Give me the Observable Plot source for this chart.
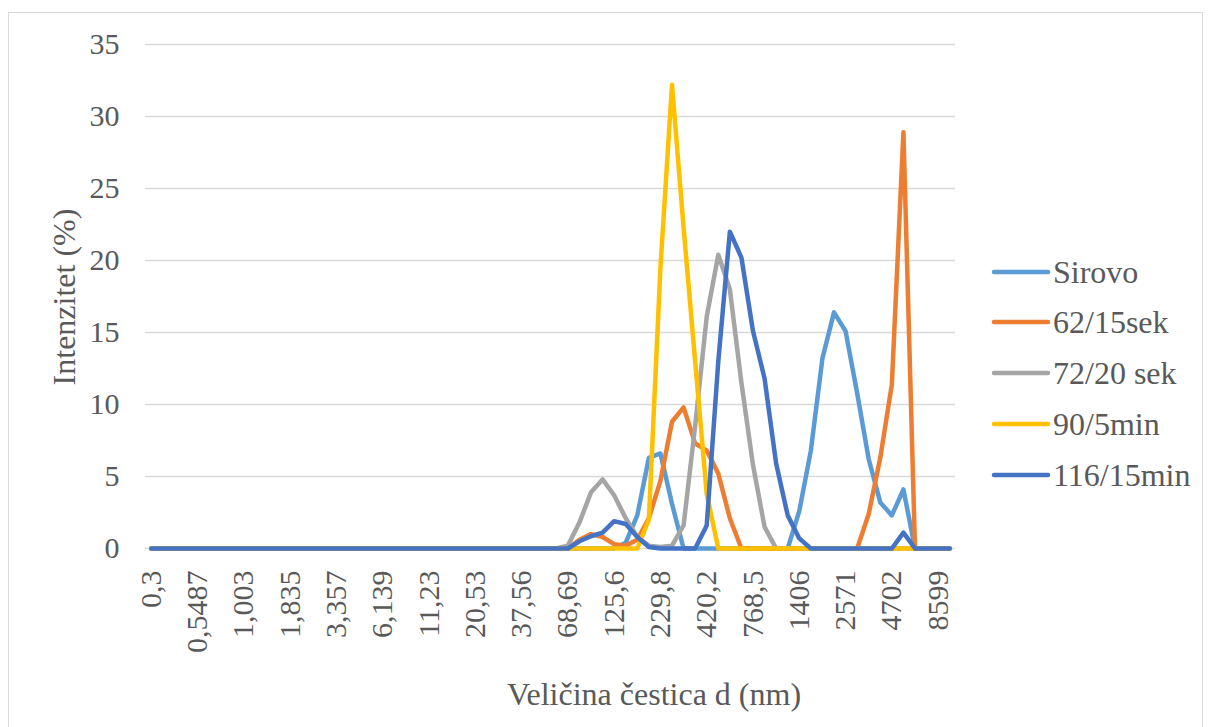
<!DOCTYPE html>
<html>
<head>
<meta charset="utf-8">
<script src="https://cdn.jsdelivr.net/npm/d3@7"></script>
<script src="https://cdn.jsdelivr.net/npm/@observablehq/plot@0.6"></script>
<style>
  html, body { margin: 0; padding: 0; background: #ffffff; }
  #wrap { position: relative; width: 1208px; height: 727px; overflow: hidden;
          font-family: "Liberation Serif", Tinos, "DejaVu Serif", serif; color: #595959; }
  #frame { position: absolute; left: 8px; top: 12px; width: 1195px; height: 760px;
           border: 1px solid #D9D9D9; box-sizing: border-box; }
  #chart { position: absolute; left: 0; top: 0; }
  #chart svg, #chart text { font-family: "Liberation Serif", Tinos, "DejaVu Serif", serif; }
  .title { position: absolute; white-space: nowrap; font-size: 32px; line-height: 1; }
  #ytitle { left: 64px; top: 297px; transform: translate(-50%, -50%) rotate(-90deg); }
  #xtitle { left: 654px; top: 694px; transform: translate(-50%, -50%); }
  #legend { position: absolute; left: 990px; top: 0; }
  .item { position: absolute; left: 0; height: 40px; display: flex; align-items: center; white-space: nowrap; font-size: 32px; transform: translateY(-50%); }
  .item svg { margin-right: 1px; }
</style>
</head>
<body>
<div id="wrap">
  <div id="frame"></div>
  <div id="chart"></div>
  <div class="title" id="ytitle">Intenzitet (%)</div>
  <div class="title" id="xtitle">Veličina čestica d (nm)</div>
  <div id="legend"></div>
</div>
<script>
// Size classes (nm), Zetasizer bins
const categories = ["0,3","0,3489","0,4057","0,4718","0,5487","0,6381","0,7421","0,863","1,003","1,167",
  "1,357","1,578","1,835","2,134","2,481","2,885","3,357","3,903","4,539","5,279",
  "6,139","7,139","8,302","9,655","11,23","13,06","15,19","17,66","20,53","23,88",
  "27,76","32,29","37,56","43,67","50,79","59,07","68,69","79,88","92,89","108,0",
  "125,6","146,1","169,9","197,6","229,8","267,2","310,8","361,4","420,2","488,7",
  "568,3","660,9","768,5","893,7","1039","1209","1406","1635","1901","2211",
  "2571","2990","3477","4043","4702","5468","6359","7395","8599","10000"];

// Tick labels shown on the x axis
const xTickLabels = ["0,3","0,5487","1,003","1,835","3,357","6,139","11,23","20,53","37,56","68,69",
  "125,6","229,8","420,2","768,5","1406","2571","4702","8599"];

const yTicks = [0, 5, 10, 15, 20, 25, 30, 35];

const seriesNames = ["Sirovo", "62/15sek", "72/20 sek", "90/5min", "116/15min"];
const seriesColors = ["#5B9BD5", "#ED7D31", "#A5A5A5", "#FFC000", "#4472C4"];

const sirovo = [0,0,0,0,0,0,0,0,0,0, 0,0,0,0,0,0,0,0,0,0, 0,0,0,0,0,0,0,0,0,0,
  0,0,0,0,0,0,0,0,0,0, 0,0.4,2.3,6.3,6.6,3.1,0,0,0,0, 0,0,0,0,0,0,2.6,6.8,13.2,16.4,
  15.1,10.8,6.2,3.2,2.3,4.1,0,0,0,0];
const s62_15sek = [0,0,0,0,0,0,0,0,0,0, 0,0,0,0,0,0,0,0,0,0, 0,0,0,0,0,0,0,0,0,0,
  0,0,0,0,0,0,0,0.6,1.0,0.8, 0.3,0.2,0.6,2.1,4.7,8.8,9.8,7.3,6.8,5.2, 2.1,0,0,0,0,0,0,0,0,0,
  0,0,2.4,6.3,11.4,28.9,0,0,0,0];
const s72_20sek = [0,0,0,0,0,0,0,0,0,0, 0,0,0,0,0,0,0,0,0,0, 0,0,0,0,0,0,0,0,0,0,
  0,0,0,0,0,0,0.2,1.8,3.9,4.8, 3.7,2.1,0.8,0.2,0.1,0.2,1.6,8.5,16.1,20.4, 18.0,11.5,5.8,1.5,0,0,0,0,0,0,
  0,0,0,0,0,0,0,0,0,0];
const s90_5min = [0,0,0,0,0,0,0,0,0,0, 0,0,0,0,0,0,0,0,0,0, 0,0,0,0,0,0,0,0,0,0,
  0,0,0,0,0,0,0,0,0,0, 0,0,0,2.0,19.5,32.2,22.3,13.0,3.8,0, 0,0,0,0,0,0,0,0,0,0,
  0,0,0,0,0,0,0,0,0,0];
const s116_15min = [0,0,0,0,0,0,0,0,0,0, 0,0,0,0,0,0,0,0,0,0, 0,0,0,0,0,0,0,0,0,0,
  0,0,0,0,0,0,0,0.5,0.85,1.1, 1.9,1.7,0.8,0.1,0,0,0,0,1.6,13.0, 22.0,20.2,15.1,11.8,5.9,2.3,0.7,0,0,0,
  0,0,0,0,0,1.1,0,0,0,0];

const seriesValues = [sirovo, s62_15sek, s72_20sek, s90_5min, s116_15min];

const rows = seriesNames.flatMap((name, si) =>
  categories.map((c, i) => ({series: name, size: c, value: seriesValues[si][i]})));

const chart = Plot.plot({
  width: 1208,
  height: 727,
  marginLeft: 145,
  marginRight: 253,
  marginTop: 44,
  marginBottom: 179,
  style: {fontFamily: "Liberation Serif, Tinos, DejaVu Serif, serif", fontSize: "30px", color: "#595959", background: "transparent", overflow: "visible"},
  x: {type: "point", domain: categories, padding: 0.5},
  y: {domain: [0, 35]},
  marks: [
    Plot.ruleY(yTicks, {stroke: "#D9D9D9", strokeWidth: 1.3}),
    Plot.axisY({ticks: yTicks, tickSize: 0, tickPadding: 26, label: null}),
    Plot.axisX({ticks: xTickLabels, tickSize: 0, tickRotate: -90, tickPadding: 22, label: null}),
    ...seriesNames.map((name, si) => Plot.line(rows.filter(r => r.series === name), {
      x: "size", y: "value", stroke: seriesColors[si], strokeWidth: 4.5,
      strokeLinejoin: "round", strokeLinecap: "round"
    }))
  ]
});
document.getElementById("chart").appendChild(chart);

// Legend
const legendY = [272, 322, 373, 424, 475];
const legend = document.getElementById("legend");
seriesNames.forEach((name, si) => {
  const item = document.createElement("div");
  item.className = "item";
  item.style.top = legendY[si] + "px";
  item.innerHTML = `<svg width="62" height="10"><line x1="4" y1="5" x2="58" y2="5" stroke="${seriesColors[si]}" stroke-width="4.5" stroke-linecap="round"/></svg><span>${name}</span>`;
  legend.appendChild(item);
});
</script>
</body>
</html>
